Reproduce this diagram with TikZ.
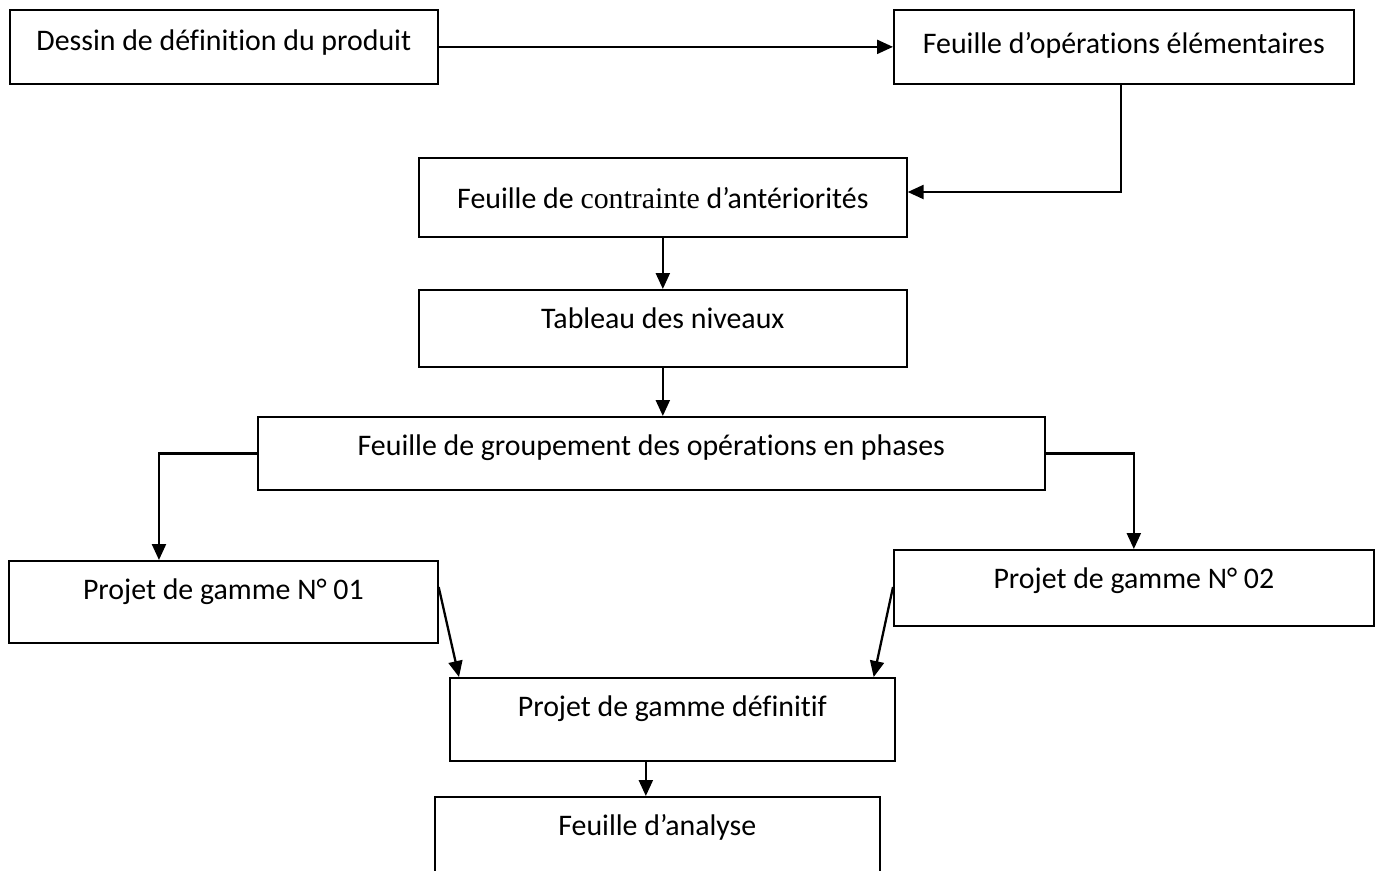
\documentclass[tikz,border=0pt]{standalone}
\usepackage{fontspec}
\setmainfont{Carlito}[Ligatures=CommonOff]
\newfontfamily\motserif{Liberation Serif}
\usetikzlibrary{arrows.meta, positioning}

\begin{document}
\begin{tikzpicture}[
        x=0.02cm, y=-0.02cm,
        box/.style={draw, line width=1pt, inner sep=0pt, anchor=north west, text height=0.78cm, font=\fontsize{17}{20}\selectfont},
        arrow/.style={-{Triangle[length=0.32cm, width=0.28cm]}, line width=1.3pt}
    ]
        \clip (0,0) rectangle (1379,870);

        % Top row
        \node[box, minimum width=8.56cm, text height=0.82cm, text depth=0.66cm] (dessin) at (9,9) {Dessin de définition du produit};
        \node[box, minimum width=9.2cm, text height=0.88cm, text depth=0.6cm] (operations) at (893,9) {Feuille d’opérations élémentaires};

        % Middle column
        \node[box, minimum width=9.76cm, text height=1.02cm, text depth=0.56cm] (contrainte) at (418,157) {Feuille de {\motserif contrainte} d’antériorités};
        \node[box, minimum width=9.76cm, text depth=0.76cm] (niveaux) at (418,289) {Tableau des niveaux};
        \node[box, minimum width=15.74cm, text depth=0.68cm] (groupement) at (257,416) {Feuille de groupement des opérations en phases};

        % Two projects
        \node[box, minimum width=8.58cm, text depth=0.86cm] (gammeA) at (8,560) {Projet de gamme N° 01};
        \node[box, minimum width=9.6cm, text depth=0.74cm] (gammeB) at (893,549) {Projet de gamme N° 02};

        % Bottom
        \node[box, minimum width=8.9cm, text depth=0.88cm] (definitif) at (449,677) {Projet de gamme définitif};
        \node[box, minimum width=8.9cm, text depth=1.3cm] (analyse) at (434,796) {Feuille d’analyse};

        % Arrows
        \coordinate (coude) at (1121,192);
        \draw[arrow] (dessin.east) -- (operations.west);
        \draw[arrow] (operations.south -| coude) -- (coude) -- (contrainte.east |- coude);
        \draw[arrow] (contrainte.south) -- (niveaux.north);
        \draw[arrow] (niveaux.south) -- (niveaux.south |- groupement.north);
        \draw[arrow] (groupement.west) -| ([xshift=3.02cm]gammeA.north west);
        \draw[arrow] (groupement.east) -| (gammeB.north);
        \draw[arrow] ([yshift=-0.54cm]gammeA.north east) -- ([xshift=0.2cm]definitif.north west);
        \draw[arrow] ([yshift=-0.76cm]gammeB.north west) -- ([xshift=-0.44cm]definitif.north east);
        \draw[arrow] ([xshift=-0.53cm]definitif.south) -- ([xshift=-0.53cm]definitif.south |- analyse.north);
    \end{tikzpicture}
\end{document}
